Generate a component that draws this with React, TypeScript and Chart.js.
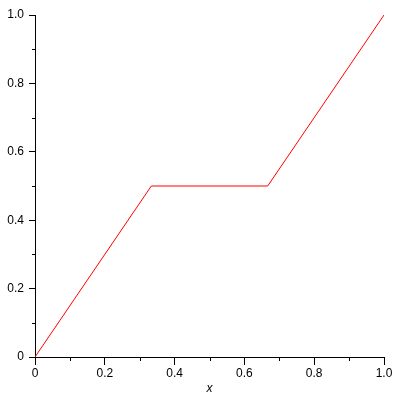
import { useEffect, useRef } from "react";
import { Chart, registerables } from "chart.js";

Chart.register(...registerables);

// piecewise linear curve (Cantor-like step)
const xs = [0, 0.3333, 0.6667, 1];
const ys = [0, 0.5, 0.5, 1];

const FONT = "Liberation Sans";

// minor tick marks (odd ticks) drawn shorter than the major ones
const minorTicks = {
  id: "minorTicks",
  afterDraw(chart: any) {
    const c = chart.ctx;
    const sx = chart.scales.x;
    const sy = chart.scales.y;
    c.save();
    c.strokeStyle = "#000";
    c.lineWidth = 1;
    c.beginPath();
    sx.ticks.forEach((t: any, i: number) => {
      if (i % 2 === 1) {
        const px = Math.round(sx.getPixelForValue(t.value)) + 0.5;
        c.moveTo(px, sx.top);
        c.lineTo(px, sx.top + 4);
      }
    });
    sy.ticks.forEach((t: any, i: number) => {
      if (i % 2 === 1) {
        const py = Math.round(sy.getPixelForValue(t.value)) + 0.5;
        c.moveTo(sy.right, py);
        c.lineTo(sy.right - 3, py);
      }
    });
    c.stroke();
    c.restore();
  },
};

export default function App() {
  const ref = useRef<HTMLCanvasElement>(null);

  useEffect(() => {
    if (!ref.current) return;
    const chart = new Chart(ref.current, {
      type: "line",
      data: {
        datasets: [
          {
            data: xs.map((x, i) => ({ x, y: ys[i] })),
            borderColor: "#ff0000",
            borderWidth: 1,
            pointRadius: 0,
            tension: 0,
          },
        ],
      },
      options: {
        animation: false,
        responsive: false,
        devicePixelRatio: 1,
        layout: { padding: { top: 15, right: 16, left: 0, bottom: 0 } },
        plugins: { legend: { display: false }, tooltip: { enabled: false } },
        scales: {
          x: {
            type: "linear",
            min: 0,
            max: 1,
            afterFit: (s: any) => {
              s.height = 43;
            },
            border: { display: true, color: "#000", width: 1 },
            grid: {
              drawOnChartArea: false,
              tickLength: 8,
              tickColor: (ctx: any) => (ctx.index % 2 ? "transparent" : "#000"),
            },
            ticks: {
              stepSize: 0.1,
              autoSkip: false,
              maxRotation: 0,
              padding: 1,
              color: "#000",
              font: { family: FONT, size: 12 },
              callback: (v: any, i: number) =>
                i % 2 ? "" : Number(v) === 0 ? "0" : Number(v).toFixed(1),
            },
            title: {
              display: true,
              text: "x",
              color: "#000",
              font: { family: FONT, size: 12, style: "italic" },
              padding: { top: 4, bottom: 4 },
            },
          },
          y: {
            min: 0,
            max: 1,
            afterFit: (s: any) => {
              s.width = 35;
            },
            border: { display: true, color: "#000", width: 1 },
            grid: {
              drawOnChartArea: false,
              tickLength: 6,
              tickColor: (ctx: any) => (ctx.index % 2 ? "transparent" : "#000"),
            },
            ticks: {
              stepSize: 0.1,
              autoSkip: false,
              padding: 5,
              color: "#000",
              font: { family: FONT, size: 12 },
              callback: (v: any, i: number) =>
                i % 2 ? "" : Number(v) === 0 ? "0" : Number(v).toFixed(1),
            },
          },
        },
      },
      plugins: [minorTicks],
    });
    return () => chart.destroy();
  }, []);

  return (
    <div style={{ position: "absolute", left: 0, top: 0, width: 400, height: 400, background: "#fff" }}>
      <canvas ref={ref} width={400} height={400} />
    </div>
  );
}
